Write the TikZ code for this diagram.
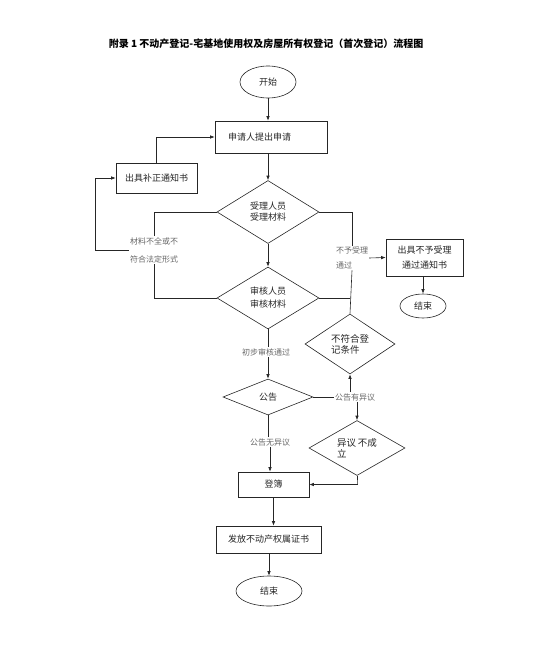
\documentclass[tikz,border=0pt]{standalone}
\usepackage{fontspec}
\setmainfont{Noto Sans CJK SC}
\usepackage{xcolor}
\usetikzlibrary{arrows.meta, positioning, shapes.geometric, calc}

\begin{document}
\begin{tikzpicture}[x=1pt, y=-1pt,
  line/.style={draw=black!85, line width=0.6pt},
  arr/.style={line, -{Latex[length=4.5pt,width=3.5pt]}},
  box/.style={draw=black!85, line width=0.6pt, rectangle, inner sep=0pt, font=\fontsize{9}{13}\selectfont, text=black!85, align=center},
  cond/.style={draw=black!85, line width=0.6pt, diamond, aspect=1.6, inner sep=0pt, font=\fontsize{9}{13}\selectfont, text=black!85, align=center},
  term/.style={draw=black!85, line width=0.6pt, ellipse, inner sep=0pt, font=\fontsize{9}{13}\selectfont, text=black!85},
  lbl/.style={font=\fontsize{8}{18}\selectfont, text=black!60, inner sep=1pt}]
  \useasboundingbox (0,0) rectangle (534,666);
  % title
  \node[font=\fontsize{10}{12}\selectfont\bfseries] (title) at (266,44) {附录 1 不动产登记-宅基地使用权及房屋所有权登记（首次登记）流程图};
  % main column
  \node[term, minimum width=56pt, minimum height=32pt] (start) at (268,82) {开始};
  \node[box, minimum height=32pt, text width=86pt, inner xsep=13pt, align=left] (apply) at (271,137) {申请人提出申请};
  \node[cond, minimum width=102pt, minimum height=63pt] (accept) at (268,212) {受理人员\\[-2pt]受理材料};
  \node[cond, minimum width=102pt, minimum height=62pt] (check) at (268,298) {审核人员\\审核材料};
  \node[lbl] (passed) at (266,352) {初步审核通过};
  \node[cond, minimum width=90pt, minimum height=36pt] (notice) at (268,397) {公告};
  \node[lbl] (noobj) at (270,442) {公告无异议};
  \node[box, minimum width=71pt, minimum height=25pt] (record) at (273.5,484.5) {登簿};
  \node[box, minimum width=105pt, minimum height=27pt] (issue) at (268.5,539.5) {发放不动产权属证书};
  \node[term, minimum width=66pt, minimum height=30pt] (finish) at (269,591) {结束};
  % left branch
  \node[box, minimum width=81pt, minimum height=30pt] (fix) at (156.5,178) {出具补正通知书};
  \node[lbl, align=center] (lack) at (154,250) {材料不全或不\\符合法定形式};
  \coordinate (bendL) at (95,250);
  % right branch
  \node[lbl, align=left] (refuse) at (352,258) {不予受理\\[-3pt]通过};
  \node[box, minimum width=77pt, minimum height=37pt, font=\fontsize{9}{15}\selectfont] (deny) at (424.5,257.5) {出具不予受理\\通过通知书};
  \node[term, minimum width=46pt, minimum height=24pt] (finishR) at (423,306) {结束};
  \node[cond, minimum width=90pt, minimum height=60pt, align=left, font=\fontsize{9.5}{11}\selectfont] (unfit) at (350,344) {不符合登\\记条件};
  \node[lbl] (objection) at (355,397) {公告有异议};
  \node[cond, minimum width=96pt, minimum height=55pt, align=left, font=\fontsize{9.5}{11}\selectfont] (invalid) at (357,448) {异议\,不成\\立};
  % main flow
  \draw[arr] (start.south) -- (start.south |- apply.north);
  \draw[arr] (apply.south -| accept.north) -- (accept.north);
  \draw[arr] (accept.south) -- (check.north);
  \draw[line] (check.south) -- (check.south |- passed.north);
  \draw[arr] (passed.south -| notice.north) -- (notice.north);
  \draw[line] (notice.south) -- (notice.south |- noobj.north);
  \draw[arr] (noobj.south) -- (noobj.south |- record.north);
  \draw[arr] (record.south) -- (record.south |- issue.north);
  \draw[arr] (issue.south -| finish.north) -- (finish.north);
  % incomplete materials
  \draw[line] (accept.west) -| (lack.north);
  \draw[line] (check.west) -| (lack.south);
  \draw[arr] (lack.west) -- (bendL) |- (fix.west);
  \draw[arr] (fix.north) |- (apply.west);
  % refused
  \draw[line] (accept.east) -| (refuse.north);
  \draw[line] (refuse.south) -- (unfit.north);
  \draw[line] (check.east) -- (check.east -| unfit.north);
  \draw[arr] (refuse.east) -- (deny.west);
  \draw[arr] (deny.south -| finishR.north) -- (finishR.north);
  % objection
  \draw[line] (notice.east) -- (objection.west);
  \draw[arr] (objection.north -| unfit.south) -- (unfit.south);
  \draw[arr] (objection.south -| invalid.north) -- (invalid.north);
  \draw[arr] (invalid.south) -- ++(0,8) |- (record.east);
\end{tikzpicture}
\end{document}
